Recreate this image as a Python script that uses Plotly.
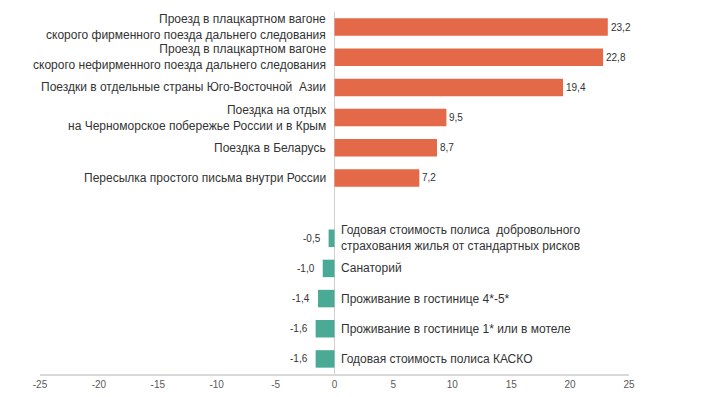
import plotly.graph_objects as go

categories = [
    "Проезд в плацкартном вагоне<br>скорого фирменного поезда дальнего следования",
    "Проезд в плацкартном вагоне<br>скорого нефирменного поезда дальнего следования",
    "Поездки в отдельные страны Юго-Восточной  Азии",
    "Поездка на отдых<br>на Черноморское побережье России и в Крым",
    "Поездка в Беларусь",
    "Пересылка простого письма внутри России",
    "",
    "Годовая стоимость полиса  добровольного<br>страхования жилья от стандартных рисков",
    "Санаторий",
    "Проживание в гостинице 4*-5*",
    "Проживание в гостинице 1* или в мотеле",
    "Годовая стоимость полиса КАСКО",
]
values = [23.2, 22.8, 19.4, 9.5, 8.7, 7.2, None, -0.5, -1.0, -1.4, -1.6, -1.6]
tick_vals = [-25, -20, -15, -10, -5, 0, 5, 10, 15, 20, 25]

ORANGE = "#E46948"
TEAL = "#4AAA96"
FONT = "Liberation Sans, Arial, sans-serif"

pos = list(range(len(categories)))
xs, ys, cols = [], [], []
for p, v in zip(pos, values):
    if v is None:
        continue
    xs.append(v)
    ys.append(p)
    cols.append(ORANGE if v > 0 else TEAL)

fig = go.Figure(go.Bar(
    x=xs, y=ys, orientation="h", width=0.58,
    marker=dict(color=cols, line=dict(width=0)),
    hoverinfo="skip",
))

ann = []
for p, v, c in zip(pos, values, categories):
    if v is None:
        continue
    txt = f"{v:.1f}".replace(".", ",")
    if v > 0:
        ann.append(dict(x=0, y=p, xref="x", yref="y", text=c, showarrow=False,
                        xanchor="right", align="right", xshift=-7,
                        font=dict(family=FONT, size=12, color="#333333")))
        ann.append(dict(x=v, y=p, xref="x", yref="y", text=txt, showarrow=False,
                        xanchor="left", xshift=1,
                        font=dict(family=FONT, size=10, color="#333333")))
    else:
        ann.append(dict(x=0, y=p, xref="x", yref="y", text=c, showarrow=False,
                        xanchor="left", align="left", xshift=4,
                        font=dict(family=FONT, size=12, color="#333333")))
        ann.append(dict(x=v, y=p, xref="x", yref="y", text=txt, showarrow=False,
                        xanchor="right", xshift=-6,
                        font=dict(family=FONT, size=10, color="#333333")))

fig.update_layout(
    template="none",
    width=686, height=381,
    margin=dict(l=32, r=65, t=4, b=15, pad=0),
    paper_bgcolor="white", plot_bgcolor="white",
    showlegend=False,
    annotations=ann,
    xaxis=dict(range=[-25, 25], tickvals=tick_vals,
               ticktext=[str(t) for t in tick_vals],
               showgrid=False, zeroline=True, zerolinecolor="#D0D0D0", zerolinewidth=1,
               showline=True, linecolor="#D9D9D9", linewidth=1.5,
               ticks="", ticklabelstandoff=0, automargin=False,
               tickfont=dict(family=FONT, size=10, color="#595959")),
    yaxis=dict(range=[11.5, -0.5], showticklabels=False, showgrid=False,
               zeroline=False, showline=False, ticks="", automargin=False),
)

fig.write_html("out.html")
